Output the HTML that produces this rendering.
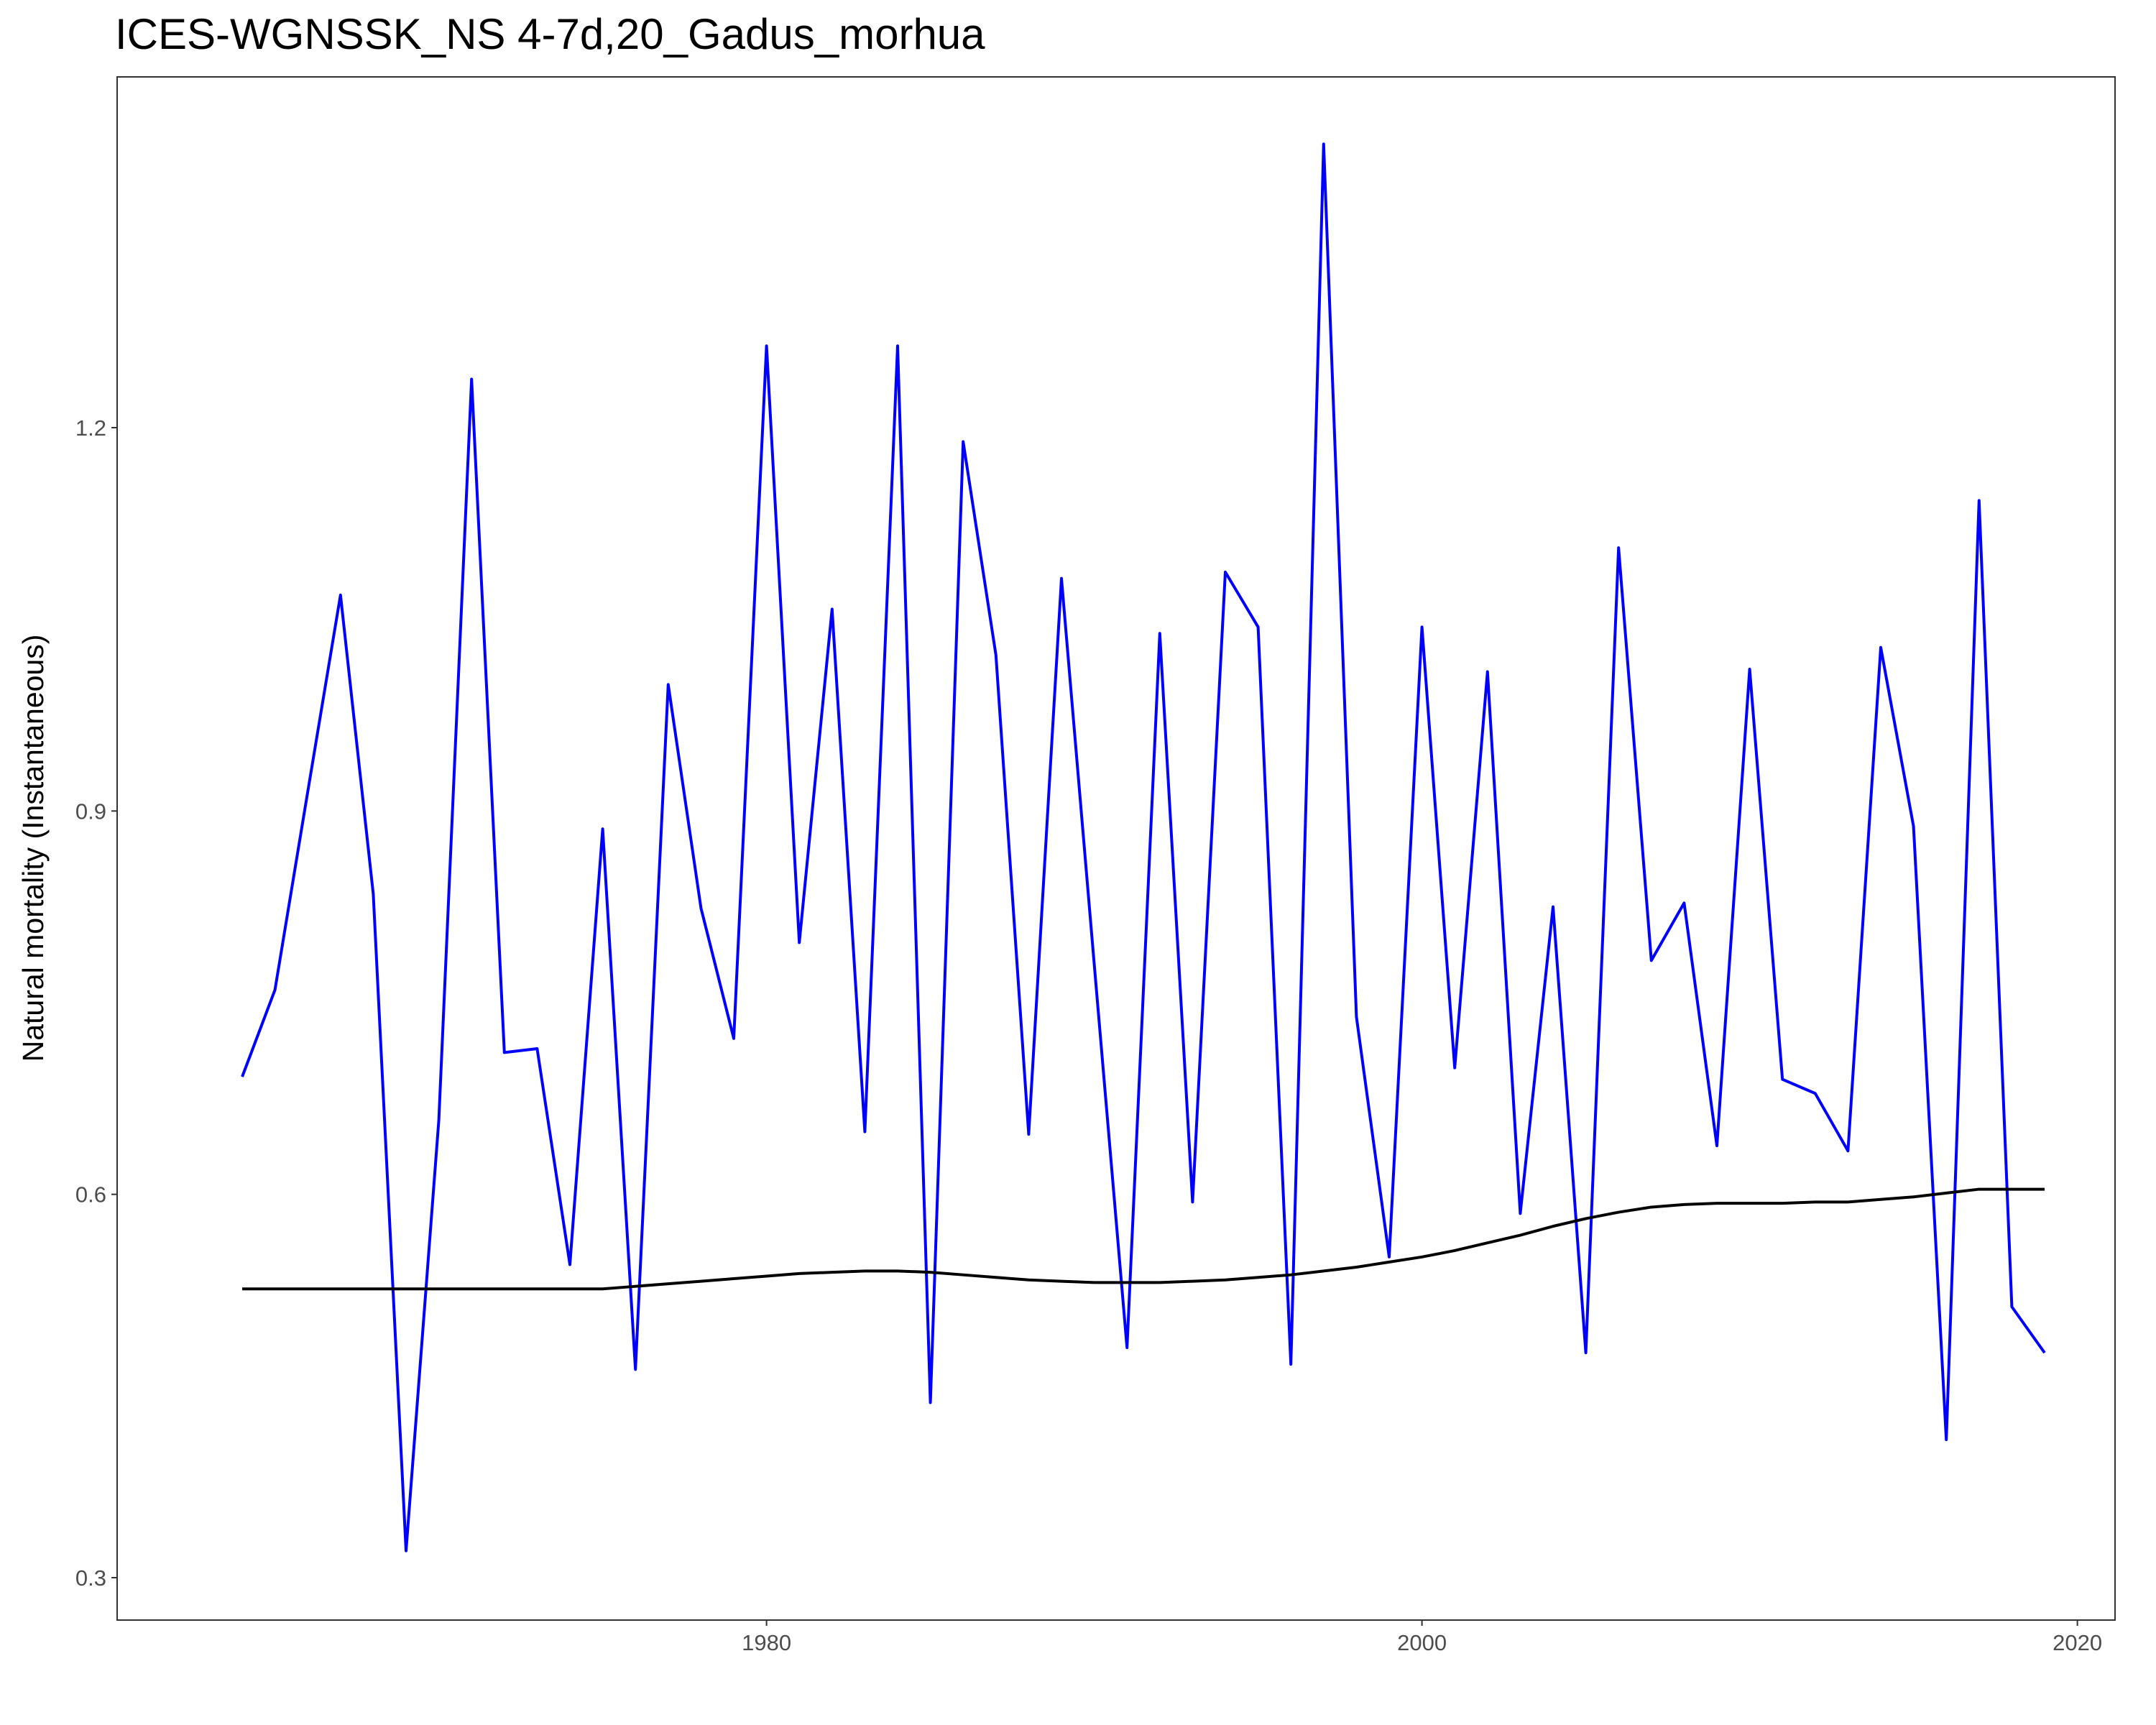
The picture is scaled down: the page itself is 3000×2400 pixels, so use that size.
<!DOCTYPE html>
<html><head><meta charset="utf-8"><style>
html,body{margin:0;padding:0;background:#fff;}
svg{display:block;font-family:"Liberation Sans",Arial,sans-serif;}
</style></head><body>
<svg id="chart" width="3000" height="2400" viewBox="0 0 3000 2400">
<text x="160" y="68" font-size="60" fill="#000">ICES-WGNSSK_NS 4-7d,20_Gadus_morhua</text>
<rect x="163" y="107" width="2780" height="2147" fill="none" stroke="#333" stroke-width="2"/>
<g id="yticks"></g>
<g id="xticks"></g>
<text transform="translate(60,1180) rotate(-90)" text-anchor="middle" font-size="41" fill="#000">Natural mortality (Instantaneous)</text>
<g id="series"></g>
</svg>
<script>
const years = [];
for (let y = 1964; y <= 2019; y++) years.push(y);
const observedM = [0.692,0.760,0.915,1.069,0.835,0.321,0.658,1.238,0.711,0.714,0.545,0.886,0.463,0.999,0.824,0.722,1.264,0.797,1.058,0.649,1.264,0.437,1.189,1.022,0.647,1.082,0.780,0.480,1.039,0.594,1.087,1.044,0.467,1.422,0.739,0.551,1.044,0.699,1.009,0.585,0.825,0.476,1.106,0.783,0.828,0.638,1.011,0.690,0.679,0.634,1.028,0.888,0.408,1.143,0.512,0.476];
const smoothM = [0.526,0.526,0.526,0.526,0.526,0.526,0.526,0.526,0.526,0.526,0.526,0.526,0.528,0.530,0.532,0.534,0.536,0.538,0.539,0.540,0.540,0.539,0.537,0.535,0.533,0.532,0.531,0.531,0.531,0.532,0.533,0.535,0.537,0.540,0.543,0.547,0.551,0.556,0.562,0.568,0.575,0.581,0.586,0.590,0.592,0.593,0.593,0.593,0.594,0.594,0.596,0.598,0.601,0.604,0.604,0.604];
const yTickValues = [0.3,0.6,0.9,1.2];
const yTickLabels = ["0.3","0.6","0.9","1.2"];
const xTickValues = [1980,2000,2020];
const xTickLabels = ["1980","2000","2020"];

const NS="http://www.w3.org/2000/svg";
const xs = v => 337 + (v - 1964) * 45.6;
const ys = v => 595 + (1.2 - v) * 1777.8;
const yg=document.getElementById('yticks');
yTickValues.forEach((v,i)=>{
  const t=document.createElementNS(NS,'line');
  t.setAttribute('x1',155);t.setAttribute('x2',163);t.setAttribute('y1',ys(v));t.setAttribute('y2',ys(v));
  t.setAttribute('stroke','#333');t.setAttribute('stroke-width',2);
  
  
  yg.appendChild(t);
  const l=document.createElementNS(NS,'text');
  l.setAttribute('x',148);l.setAttribute('y',ys(v)+11);l.setAttribute('text-anchor','end');
  l.setAttribute('font-size','31');l.setAttribute('fill','#4d4d4d');
  l.textContent=yTickLabels[i];
  
  
  yg.appendChild(l);
});
const xg=document.getElementById('xticks');
xTickValues.forEach((v,i)=>{
  const t=document.createElementNS(NS,'line');
  t.setAttribute('x1',xs(v));t.setAttribute('x2',xs(v));t.setAttribute('y1',2254);t.setAttribute('y2',2262);
  t.setAttribute('stroke','#333');t.setAttribute('stroke-width',2);
  
  
  xg.appendChild(t);
  const l=document.createElementNS(NS,'text');
  l.setAttribute('x',xs(v));l.setAttribute('y',2296);l.setAttribute('text-anchor','middle');
  l.setAttribute('font-size','31');l.setAttribute('fill','#4d4d4d');
  l.textContent=xTickLabels[i];
  
  
  xg.appendChild(l);
});
const sg=document.getElementById('series');
function line(vals,color,name){
  const p=document.createElementNS(NS,'polyline');
  p.setAttribute('points',vals.map((v,i)=>xs(years[i])+','+ys(v)).join(' '));
  p.setAttribute('fill','none');p.setAttribute('stroke',color);p.setAttribute('stroke-width',4);
  p.setAttribute('stroke-linejoin','round');
  
  
  sg.appendChild(p);
}
line(observedM,'#0000ff','observed-m-line');
line(smoothM,'#000000','smoothed-m-line');
</script>
</body></html>
